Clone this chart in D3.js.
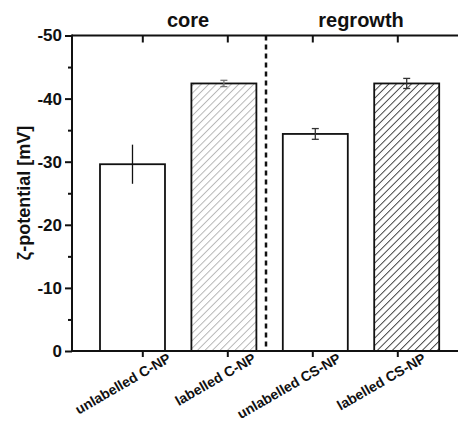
<!DOCTYPE html>
<html>
<head>
<meta charset="utf-8">
<script src="https://cdn.jsdelivr.net/npm/d3@7/dist/d3.min.js"></script>
<style>
  html, body { margin: 0; padding: 0; background: #fff; }
  svg { display: block; font-family: "Liberation Sans", Arial, sans-serif; }
</style>
</head>
<body>
<svg id="chart" width="458" height="421"></svg>
<script>
// Zeta potential of core and regrowth nanoparticles
const categories = ["unlabelled C-NP", "labelled C-NP", "unlabelled CS-NP", "labelled CS-NP"];
const zeta = [-29.6, -42.4, -34.4, -42.4];
const zetaErr = [3.1, 0.5, 0.85, 0.8];
const hatched = [false, true, false, true];
const yTicks = [0, -10, -20, -30, -40, -50];
const yMinorTicks = [-5, -15, -25, -35, -45];
const groups = ["core", "regrowth"];

const svg = d3.select("#chart");
const W = 458, H = 421;
const plotLeft = 72, plotTop = 35.5, plotBottom = 351;

const y = d3.scaleLinear().domain([0, -50]).range([plotBottom, plotTop]);
// bar placement
const xBar = d3.scaleBand().domain(categories).range([100, 439.2]).paddingInner(0.289).paddingOuter(0);
// category tick placement
const xTick = d3.scalePoint().domain(categories).range([142.3, 397.3]);

// hatch patterns
const defs = svg.append("defs");
function hatch(id, color, width) {
  const s = 5.3;
  const p = defs.append("pattern").attr("id", id)
    .attr("patternUnits", "userSpaceOnUse").attr("width", s).attr("height", s)
    .attr("patternTransform", "rotate(45)");
  p.append("rect").attr("width", s).attr("height", s).attr("fill", "#fff");
  p.append("line").attr("x1", 0.5).attr("y1", 0).attr("x2", 0.5).attr("y2", s)
    .attr("stroke", color).attr("stroke-width", width);
}
hatch("hatchLight", "#b0b0b0", 0.9);
hatch("hatchDark", "#333", 0.9);
const hatchIds = ["", "hatchLight", "", "hatchDark"];
const errColors = ["#111", "#777", "#333", "#333"];
const capW = [0, 7, 7, 7];

// bars
svg.append("g").selectAll("rect").data(categories).join("rect")
  .attr("x", d => xBar(d))
  .attr("y", (d, i) => y(zeta[i]))
  .attr("width", xBar.bandwidth())
  .attr("height", (d, i) => y(0) - y(zeta[i]))
  .attr("fill", (d, i) => hatched[i] ? `url(#${hatchIds[i]})` : "#fff")
  .attr("stroke", "#111").attr("stroke-width", 1.8);

// error bars
const eg = svg.append("g");
categories.forEach((c, i) => {
  const cx = xBar(c) + xBar.bandwidth() / 2;
  const y1 = y(zeta[i] - zetaErr[i]), y2 = y(zeta[i] + zetaErr[i]);
  eg.append("line").attr("x1", cx).attr("x2", cx).attr("y1", y1).attr("y2", y2)
    .attr("stroke", errColors[i]).attr("stroke-width", 1.3);
  if (capW[i] > 0) {
    [y1, y2].forEach(yy => eg.append("line")
      .attr("x1", cx - capW[i] / 2).attr("x2", cx + capW[i] / 2)
      .attr("y1", yy).attr("y2", yy)
      .attr("stroke", errColors[i]).attr("stroke-width", 1.3));
  }
});

// separator between groups
svg.append("line").attr("x1", 266).attr("x2", 266).attr("y1", plotTop).attr("y2", plotBottom)
  .attr("stroke", "#111").attr("stroke-width", 2.5).attr("stroke-dasharray", "5,4");

// left axis
const yAxis = svg.append("g").attr("transform", `translate(${plotLeft},0)`)
  .call(d3.axisLeft(y).tickValues(yTicks).tickSize(7).tickSizeOuter(0).tickFormat(d => String(d)));
yAxis.select(".domain").remove();
yAxis.selectAll(".tick line").attr("stroke", "#111").attr("stroke-width", 2);
yAxis.selectAll(".tick text").attr("x", -10).attr("font-size", 17).attr("font-weight", "bold").attr("fill", "#111");
const yMinor = svg.append("g").attr("transform", `translate(${plotLeft},0)`)
  .call(d3.axisLeft(y).tickValues(yMinorTicks).tickSize(4).tickFormat(""));
yMinor.select(".domain").remove();
yMinor.selectAll(".tick line").attr("stroke", "#111").attr("stroke-width", 2);

// bottom axis
const xAxis = svg.append("g").attr("transform", `translate(0,${plotBottom})`)
  .call(d3.axisBottom(xTick).tickSize(6).tickSizeOuter(0));
xAxis.select(".domain").remove();
xAxis.selectAll(".tick line").attr("stroke", "#111").attr("stroke-width", 2);
xAxis.selectAll(".tick text")
  .attr("font-size", 14).attr("font-weight", "bold").attr("fill", "#111")
  .attr("text-anchor", "end").attr("dy", 0).attr("y", 0)
  .attr("transform", "translate(29,10) rotate(-30)");

// top axis (ticks inward)
const xTop = svg.append("g").attr("transform", `translate(0,${plotTop})`)
  .call(d3.axisTop(xTick).tickSize(-7).tickSizeOuter(0).tickFormat(""));
xTop.select(".domain").remove();
xTop.selectAll(".tick line").attr("stroke", "#111").attr("stroke-width", 2);

// frame lines
svg.append("line").attr("x1", plotLeft).attr("x2", W).attr("y1", plotBottom).attr("y2", plotBottom)
  .attr("stroke", "#111").attr("stroke-width", 2);
svg.append("line").attr("x1", plotLeft).attr("x2", W).attr("y1", plotTop).attr("y2", plotTop)
  .attr("stroke", "#111").attr("stroke-width", 2);
svg.append("line").attr("x1", plotLeft).attr("x2", plotLeft).attr("y1", plotTop - 1).attr("y2", plotBottom + 1)
  .attr("stroke", "#111").attr("stroke-width", 2);

// group titles
const groupX = [188, 361];
svg.append("g").selectAll("text").data(groups).join("text")
  .attr("x", (d, i) => groupX[i]).attr("y", 27)
  .attr("text-anchor", "middle").attr("font-size", 20).attr("font-weight", "bold").attr("fill", "#111")
  .text(d => d);

// y-axis title
svg.append("text").attr("transform", "translate(30,193) rotate(-90)")
  .attr("text-anchor", "middle").attr("font-size", 18).attr("font-weight", "bold").attr("fill", "#111")
  .text("ζ-potential [mV]");
</script>
</body>
</html>
